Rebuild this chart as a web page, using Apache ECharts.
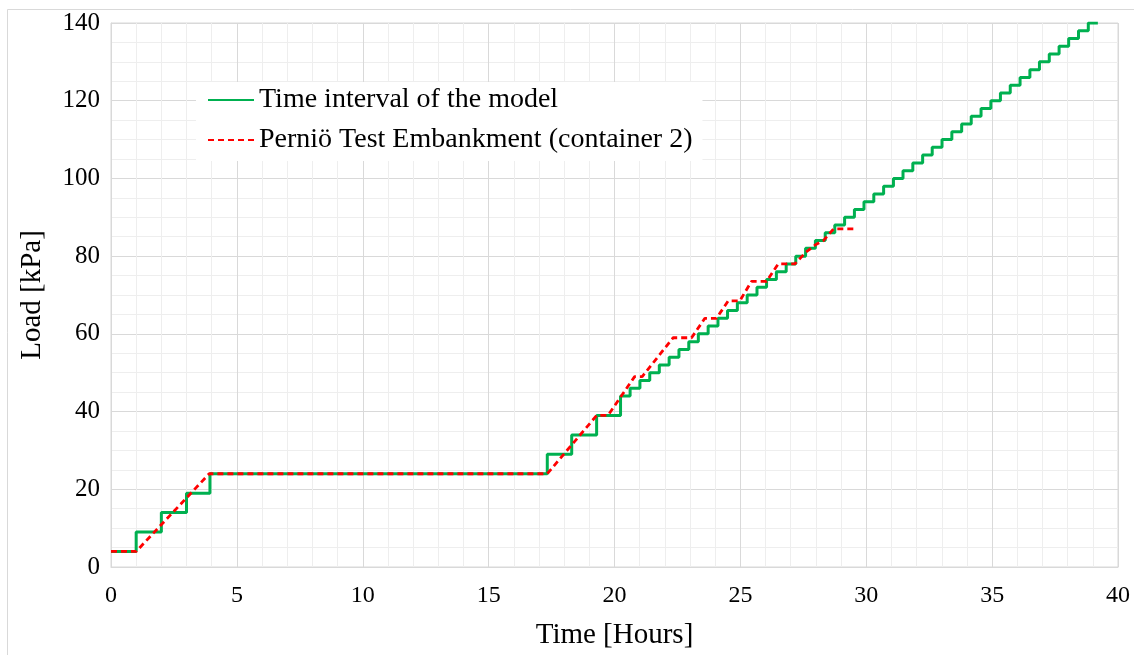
<!DOCTYPE html>
<html>
<head>
<meta charset="utf-8">
<script src="https://cdn.jsdelivr.net/npm/echarts@6/dist/echarts.min.js"></script>
<style>html,body{margin:0;padding:0;background:#fff;}#c{width:1134px;height:655px;}</style>
</head>
<body>
<div id="c"></div>
<script>
// Model time steps (hours) and load after each step (kPa)
const greenTime = [0, 1, 2, 3, 3.93, 17.33, 18.3, 19.29, 20.24,
  20.62, 21.01, 21.40, 21.78, 22.17, 22.56, 22.95, 23.33, 23.72, 24.11,
  24.49, 24.88, 25.27, 25.66, 26.04, 26.43, 26.82, 27.20, 27.59, 27.98,
  28.37, 28.75, 29.14, 29.53, 29.91, 30.30, 30.69, 31.08, 31.46, 31.85,
  32.24, 32.62, 33.01, 33.40, 33.79, 34.17, 34.56, 34.95, 35.33, 35.72,
  36.11, 36.50, 36.88, 37.27, 37.66, 38.04, 38.43, 38.82, 39.2];
const greenLoad = [4, 9, 14, 19, 24, 29, 34, 39, 44,
  46, 48, 50, 52, 54, 56, 58, 60, 62, 64,
  66, 68, 70, 72, 74, 76, 78, 80, 82, 84,
  86, 88, 90, 92, 94, 96, 98, 100, 102, 104,
  106, 108, 110, 112, 114, 116, 118, 120, 122, 124,
  126, 128, 130, 132, 134, 136, 138, 140, 140];
// Perniö test embankment measurements
const redTime = [0, 1, 3.9, 17.33, 19.29, 19.74, 20.8, 21.1, 22.33, 23.06, 23.59, 24.05,
  24.52, 24.98, 25.44, 26.04, 26.5, 27.16, 27.6, 28.0, 28.3, 28.7, 29.5];
const redLoad = [4, 4, 24, 24, 39, 39, 49, 49, 59, 59, 64, 64,
  68.5, 68.5, 73.5, 73.5, 78, 78, 81, 83, 84, 87, 87];
const seriesNames = ['Time interval of the model', 'Perniö Test Embankment (container 2)'];
const xTitle = 'Time [Hours]';
const yTitle = 'Load [kPa]';

const zip = (a, b) => a.map((v, i) => [v, b[i]]);
const font = '"Liberation Serif", "Times New Roman", serif';
const chart = echarts.init(document.getElementById('c'), null, {renderer: 'canvas'});
chart.setOption({
  animation: false,
  backgroundColor: '#fff',
  textStyle: {fontFamily: font},
  graphic: [
    {type: 'line', shape: {x1: 7.5, y1: 9.5, x2: 1134, y2: 9.5}, style: {stroke: '#d9d9d9', lineWidth: 1}},
    {type: 'line', shape: {x1: 7.5, y1: 9.5, x2: 7.5, y2: 655}, style: {stroke: '#d9d9d9', lineWidth: 1}}
  ],
  grid: {left: 111, right: 16, top: 23, bottom: 88, show: true, borderColor: '#d9d9d9', borderWidth: 1},
  legend: {
    orient: 'vertical', left: 196, top: 82,
    padding: [3, 10, 6, 11],
    backgroundColor: '#fff',
    itemWidth: 46, itemHeight: 14, itemGap: 10,
    itemStyle: {opacity: 0},
    textStyle: {fontFamily: font, fontSize: 28, color: '#000', lineHeight: 30},
    data: seriesNames
  },
  xAxis: {
    type: 'value', min: 0, max: 40, interval: 5,
    name: xTitle, nameLocation: 'middle', nameGap: 54,
    nameTextStyle: {fontFamily: font, fontSize: 29, color: '#000'},
    axisLine: {show: true, lineStyle: {color: '#d9d9d9'}},
    axisTick: {show: false},
    axisLabel: {fontFamily: font, fontSize: 24, color: '#000', margin: 17},
    splitLine: {show: true, lineStyle: {color: '#d9d9d9', width: 1}},
    minorTick: {show: false, splitNumber: 5},
    minorSplitLine: {show: true, lineStyle: {color: '#eeeeee', width: 1}}
  },
  yAxis: {
    type: 'value', min: 0, max: 140, interval: 20,
    name: yTitle, nameLocation: 'middle', nameGap: 64,
    nameTextStyle: {fontFamily: font, fontSize: 29, color: '#000'},
    axisLine: {show: true, lineStyle: {color: '#d9d9d9'}},
    axisTick: {show: false},
    axisLabel: {fontFamily: font, fontSize: 25, color: '#000', margin: 11},
    splitLine: {show: true, lineStyle: {color: '#d9d9d9', width: 1}},
    minorTick: {show: false, splitNumber: 4},
    minorSplitLine: {show: true, lineStyle: {color: '#eeeeee', width: 1}}
  },
  series: [
    {
      name: seriesNames[0], type: 'line', step: 'end',
      data: zip(greenTime, greenLoad),
      symbol: 'none', showSymbol: false,
      itemStyle: {color: '#00B050'},
      lineStyle: {color: '#00B050', width: 3},
      z: 2
    },
    {
      name: seriesNames[1], type: 'line',
      data: zip(redTime, redLoad),
      symbol: 'none', showSymbol: false,
      itemStyle: {color: '#FF0000'},
      lineStyle: {color: '#FF0000', width: 2.8, type: [6, 4]},
      z: 3
    }
  ]
});
</script>
</body>
</html>
